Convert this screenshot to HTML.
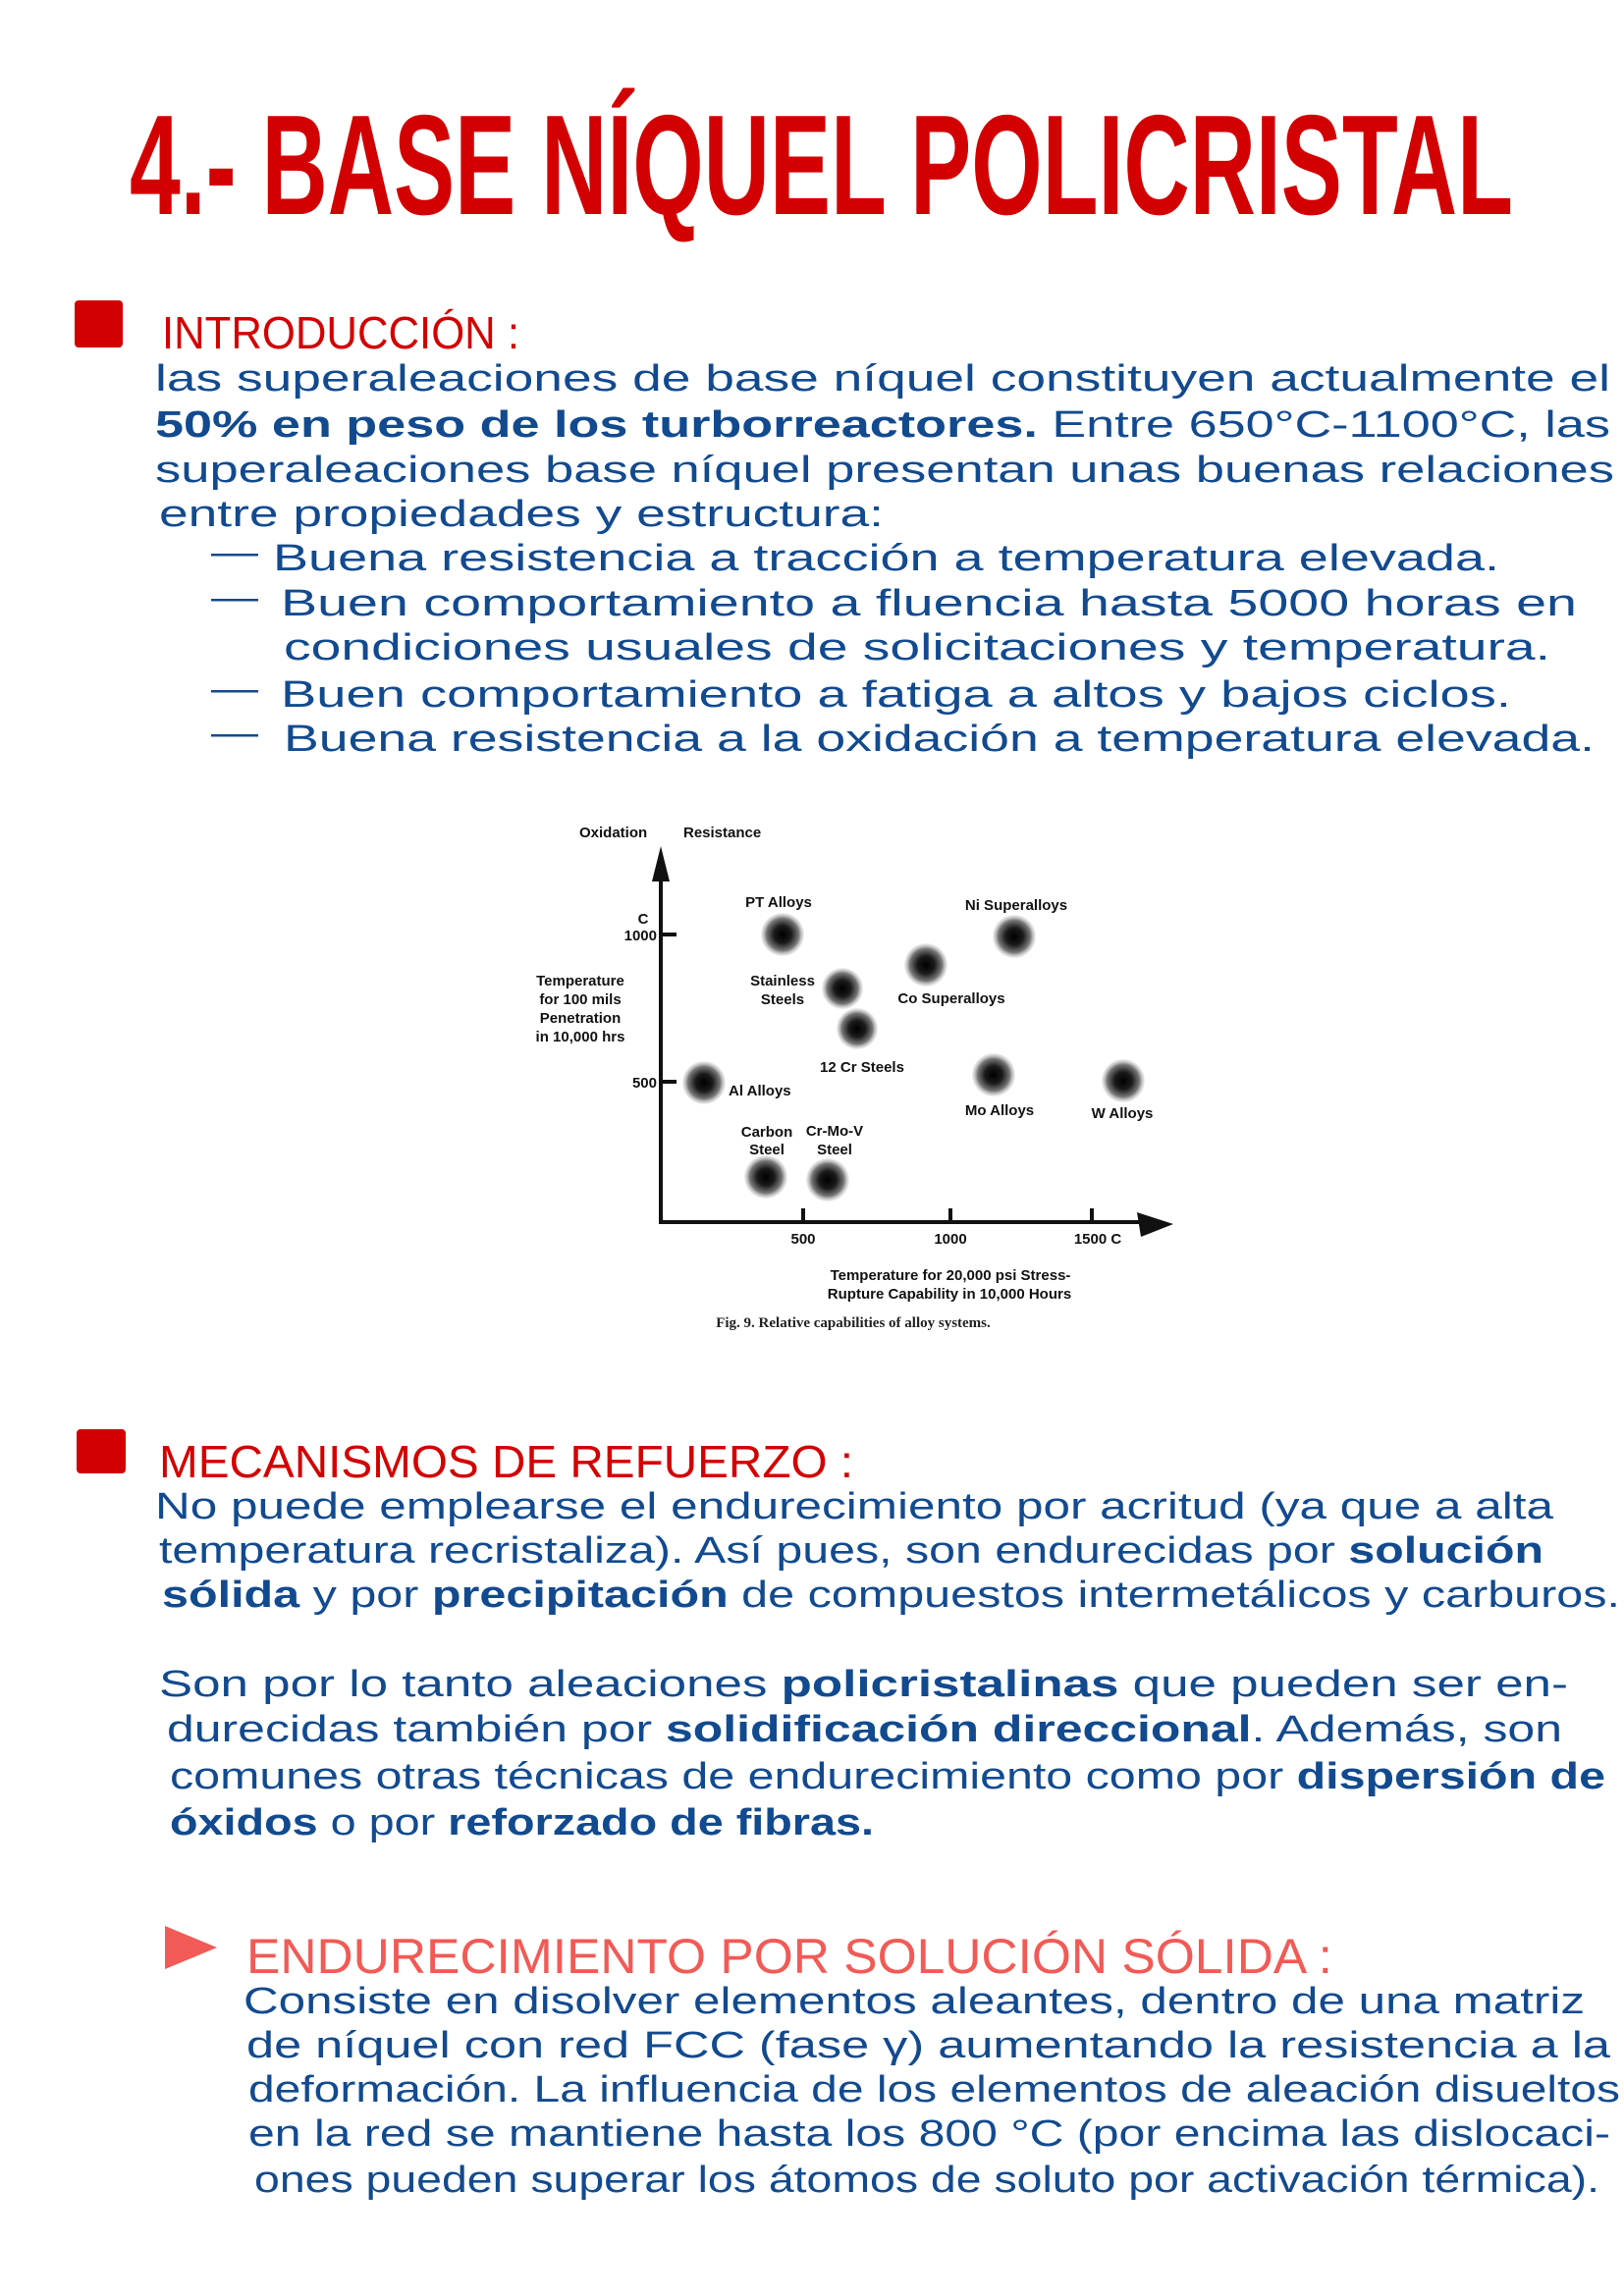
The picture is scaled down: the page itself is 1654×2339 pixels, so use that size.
<!DOCTYPE html>
<html><head><meta charset="utf-8"><style>
html,body{margin:0;padding:0;background:#fff;}
svg{display:block}
.b{font-family:"Liberation Sans",sans-serif;font-size:38px;fill:#124a8f;}
.bb{font-weight:bold}
.c{font-family:"Liberation Sans",sans-serif;font-weight:bold;fill:#111;font-size:15px;}
</style></head><body>
<svg width="1654" height="2339" viewBox="0 0 1654 2339" xmlns="http://www.w3.org/2000/svg">
<defs>
<radialGradient id="bl"><stop offset="0" stop-color="#000"/><stop offset="0.4" stop-color="#1a1a1a"/><stop offset="0.75" stop-color="#777"/><stop offset="1" stop-color="#ccc" stop-opacity="0.3"/></radialGradient>
</defs>
<text x="132" y="218" font-family="'Liberation Sans Narrow','Liberation Sans',sans-serif" font-weight="bold" font-size="145" fill="#d30000" textLength="1409" lengthAdjust="spacingAndGlyphs">4.- BASE NÍQUEL POLICRISTAL</text>

<rect x="76" y="306" width="49" height="48" rx="4" fill="#d30000"/>
<text x="165" y="355" font-family="'Liberation Sans',sans-serif" font-size="46" fill="#d30000" textLength="364" lengthAdjust="spacingAndGlyphs">INTRODUCCIÓN :</text>
<g class="b">
<text x="158" y="398" textLength="1482" lengthAdjust="spacingAndGlyphs">las superaleaciones de base níquel constituyen actualmente el</text>
<text x="158" y="445" textLength="1482" lengthAdjust="spacingAndGlyphs"><tspan class="bb">50% en peso de los turborreactores.</tspan> Entre 650°C-1100°C, las</text>
<text x="158" y="491" textLength="1486" lengthAdjust="spacingAndGlyphs">superaleaciones base níquel presentan unas buenas relaciones</text>
<text x="162" y="536" textLength="738" lengthAdjust="spacingAndGlyphs">entre propiedades y estructura:</text>
<text x="215" y="575" textLength="48" lengthAdjust="spacingAndGlyphs">—</text>
<text x="278" y="581" textLength="1249" lengthAdjust="spacingAndGlyphs">Buena resistencia a tracción a temperatura elevada.</text>
<text x="215" y="621" textLength="48" lengthAdjust="spacingAndGlyphs">—</text>
<text x="286" y="627" textLength="1320" lengthAdjust="spacingAndGlyphs">Buen comportamiento a fluencia hasta 5000 horas en</text>
<text x="289" y="672" textLength="1290" lengthAdjust="spacingAndGlyphs">condiciones usuales de solicitaciones y temperatura.</text>
<text x="215" y="714" textLength="48" lengthAdjust="spacingAndGlyphs">—</text>
<text x="286" y="720" textLength="1253" lengthAdjust="spacingAndGlyphs">Buen comportamiento a fatiga a altos y bajos ciclos.</text>
<text x="215" y="759" textLength="48" lengthAdjust="spacingAndGlyphs">—</text>
<text x="289" y="765" textLength="1335" lengthAdjust="spacingAndGlyphs">Buena resistencia a la oxidación a temperatura elevada.</text>
</g>

<!-- chart -->
<g class="c">
<text x="590" y="853">Oxidation</text>
<text x="696" y="853">Resistance</text>
<text x="591" y="1004" text-anchor="middle">Temperature</text>
<text x="591" y="1023" text-anchor="middle">for 100 mils</text>
<text x="591" y="1042" text-anchor="middle">Penetration</text>
<text x="591" y="1061" text-anchor="middle">in 10,000 hrs</text>
<text x="655" y="941" text-anchor="middle">C</text>
<text x="669" y="958" text-anchor="end">1000</text>
<text x="669" y="1108" text-anchor="end">500</text>
<text x="793" y="924" text-anchor="middle">PT Alloys</text>
<text x="1035" y="927" text-anchor="middle">Ni Superalloys</text>
<text x="797" y="1004" text-anchor="middle">Stainless</text>
<text x="797" y="1023" text-anchor="middle">Steels</text>
<text x="969" y="1022" text-anchor="middle">Co Superalloys</text>
<text x="878" y="1092" text-anchor="middle">12 Cr Steels</text>
<text x="742" y="1116">Al Alloys</text>
<text x="1018" y="1136" text-anchor="middle">Mo Alloys</text>
<text x="1143" y="1139" text-anchor="middle">W Alloys</text>
<text x="781" y="1158" text-anchor="middle">Carbon</text>
<text x="781" y="1176" text-anchor="middle">Steel</text>
<text x="850" y="1157" text-anchor="middle">Cr-Mo-V</text>
<text x="850" y="1176" text-anchor="middle">Steel</text>
<text x="818" y="1267" text-anchor="middle">500</text>
<text x="968" y="1267" text-anchor="middle">1000</text>
<text x="1118" y="1267" text-anchor="middle">1500 C</text>
<text x="968" y="1304" text-anchor="middle">Temperature for 20,000 psi Stress-</text>
<text x="967" y="1323" text-anchor="middle">Rupture Capability in 10,000 Hours</text>
</g>
<text x="869" y="1352" text-anchor="middle" font-family="'Liberation Serif',serif" font-weight="bold" font-size="15" fill="#222">Fig. 9.  Relative capabilities of alloy systems.</text>
<g stroke="#111" stroke-width="4" fill="none">
<line x1="673" y1="885" x2="673" y2="1245"/>
<line x1="671" y1="1245" x2="1175" y2="1245"/>
<line x1="675" y1="952" x2="689" y2="952"/>
<line x1="675" y1="1102" x2="689" y2="1102"/>
<line x1="818" y1="1245" x2="818" y2="1231"/>
<line x1="968" y1="1245" x2="968" y2="1231"/>
<line x1="1112" y1="1245" x2="1112" y2="1231"/>
</g>
<polygon points="673,862 664,898 682,898" fill="#111"/>
<polygon points="1195,1247 1158,1235 1162,1260" fill="#111"/>
<g fill="url(#bl)">
<circle cx="797" cy="952" r="22"/><circle cx="1033" cy="954" r="22"/>
<circle cx="943" cy="983" r="22"/><circle cx="858" cy="1007" r="21"/>
<circle cx="873" cy="1048" r="21"/><circle cx="717" cy="1103" r="22"/>
<circle cx="1012" cy="1095" r="22"/><circle cx="1144" cy="1101" r="22"/>
<circle cx="780" cy="1199" r="22"/><circle cx="843" cy="1202" r="22"/>
</g>

<rect x="78" y="1456" width="50" height="45" rx="4" fill="#d30000"/>
<text x="162" y="1505" font-family="'Liberation Sans',sans-serif" font-size="46" fill="#d30000" textLength="707" lengthAdjust="spacingAndGlyphs">MECANISMOS DE REFUERZO :</text>
<g class="b">
<text x="158" y="1547" textLength="1424" lengthAdjust="spacingAndGlyphs">No puede emplearse el endurecimiento por acritud (ya que a alta</text>
<text x="162" y="1592" textLength="1410" lengthAdjust="spacingAndGlyphs">temperatura recristaliza). Así pues, son endurecidas por <tspan class="bb">solución</tspan></text>
<text x="165" y="1637" textLength="1485" lengthAdjust="spacingAndGlyphs"><tspan class="bb">sólida</tspan> y por <tspan class="bb">precipitación</tspan> de compuestos intermetálicos y carburos.</text>
<text x="162" y="1728" textLength="1435" lengthAdjust="spacingAndGlyphs">Son por lo tanto aleaciones <tspan class="bb">policristalinas</tspan> que pueden ser en-</text>
<text x="170" y="1774" textLength="1421" lengthAdjust="spacingAndGlyphs">durecidas también por <tspan class="bb">solidificación direccional</tspan>. Además, son</text>
<text x="173" y="1822" textLength="1462" lengthAdjust="spacingAndGlyphs">comunes otras técnicas de endurecimiento como por <tspan class="bb">dispersión de</tspan></text>
<text x="173" y="1869" textLength="717" lengthAdjust="spacingAndGlyphs"><tspan class="bb">óxidos</tspan> o por <tspan class="bb">reforzado de fibras.</tspan></text>
</g>

<polygon points="168,1962 168,2006 221,1984" fill="#f25a55"/>
<text x="251" y="2010" font-family="'Liberation Sans',sans-serif" font-size="50" fill="#f25a55" textLength="1106" lengthAdjust="spacingAndGlyphs">ENDURECIMIENTO POR SOLUCIÓN SÓLIDA :</text>
<g class="b">
<text x="248" y="2051" textLength="1366" lengthAdjust="spacingAndGlyphs">Consiste en disolver elementos aleantes, dentro de una matriz</text>
<text x="251" y="2096" textLength="1389" lengthAdjust="spacingAndGlyphs">de níquel con red FCC (fase γ) aumentando la resistencia a la</text>
<text x="253" y="2141" textLength="1397" lengthAdjust="spacingAndGlyphs">deformación. La influencia de los elementos de aleación disueltos</text>
<text x="253" y="2186" textLength="1387" lengthAdjust="spacingAndGlyphs">en la red se mantiene hasta los 800 °C (por encima las dislocaci-</text>
<text x="259" y="2233" textLength="1370" lengthAdjust="spacingAndGlyphs">ones pueden superar los átomos de soluto por activación térmica).</text>
</g>
</svg>
</body></html>
